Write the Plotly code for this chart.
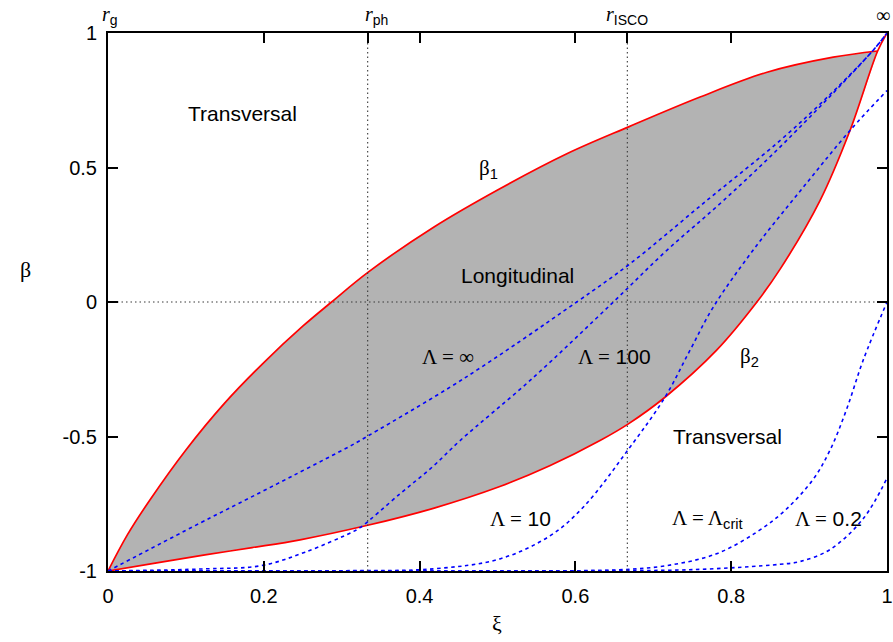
import plotly.graph_objects as go

# ---- boundary curves of the longitudinal region ----
b1_xi = [0.0, 0.025, 0.054, 0.10, 0.15, 0.20, 0.25, 0.287, 0.334,
         0.418, 0.503, 0.589, 0.669, 0.760, 0.846, 0.931, 0.988]
b1_beta = [-1.0, -0.865, -0.735, -0.55, -0.375, -0.225, -0.09, 0.0, 0.111,
           0.278, 0.421, 0.551, 0.652, 0.762, 0.854, 0.910, 0.933]

b2_xi = [0.0, 0.0625, 0.1245, 0.185, 0.2465, 0.332, 0.4176, 0.503, 0.567, 0.6316,
         0.668, 0.715, 0.781, 0.833, 0.863, 0.914, 0.9525, 0.988, 1.0]
b2_beta = [-1.0, -0.97, -0.94, -0.913, -0.884, -0.831, -0.767, -0.686, -0.609, -0.515,
           -0.453, -0.354, -0.180, 0.0, 0.123, 0.377, 0.6375, 0.933, 1.0]
b2_cross = 18  # beta_2 meets beta_1 at the 18th sample

# ---- trajectories for several values of Lambda ----
lam_inf_xi = [0.0, 0.118, 0.167, 0.238, 0.3125, 0.3235, 0.456, 0.6017, 0.670, 0.7685,
              0.8626, 0.93, 0.982, 1.0]
lam_inf_beta = [-1.0, -0.822, -0.75, -0.645, -0.533, -0.515, -0.286, 0.0, 0.142, 0.377,
                0.600, 0.78, 0.935, 1.0]

lam_100_xi = [0.0, 0.1245, 0.197, 0.253, 0.313, 0.3235, 0.3748, 0.4176, 0.452, 0.544,
              0.6487, 0.717, 0.790, 0.871, 0.982, 1.0]
lam_100_beta = [-1.0, -0.992, -0.98, -0.930, -0.856, -0.839, -0.713, -0.61, -0.515, -0.286,
                0.0, 0.191, 0.377, 0.600, 0.935, 1.0]

lam_10_xi = [0.0, 0.15, 0.30, 0.4176, 0.503, 0.567, 0.610, 0.670, 0.715, 0.747, 0.777,
             0.83, 0.8926, 0.9525, 1.0]
lam_10_beta = [-1.0, -1.0, -0.999, -0.992, -0.955, -0.87, -0.763, -0.540, -0.354, -0.180,
               -0.019, 0.20, 0.427, 0.6375, 0.786]

lam_crit_xi = [0.0, 0.30, 0.55, 0.653, 0.717, 0.781, 0.833, 0.869, 0.905, 0.927, 0.948,
               0.9696, 1.0]
lam_crit_beta = [-1.0, -1.0, -0.999, -0.996, -0.980, -0.936, -0.855, -0.775, -0.66, -0.55,
                 -0.40, -0.215, 0.0]

lam_02_xi = [0.0, 0.40, 0.60, 0.75, 0.8626, 0.888, 0.927, 0.9696, 1.0]
lam_02_beta = [-1.0, -1.0, -0.999, -0.995, -0.975, -0.965, -0.92, -0.805, -0.655]

# characteristic radii on the compactified coordinate xi
r_ph_xi = 1 / 3
r_isco_xi = 2 / 3

x_ticks = [0, 0.2, 0.4, 0.6, 0.8, 1]
x_tick_text = ["0", "0.2", "0.4", "0.6", "0.8", "1"]
y_ticks = [-1, -0.5, 0, 0.5, 1]
y_tick_text = ["-1", "-0.5", "0", "0.5", "1"]

SANS = "Liberation Sans, Arial, sans-serif"
SERIF = "Liberation Serif"


def greek(s):
    return f'<span style="font-family:{SERIF}">{s}</span>'


fig = go.Figure()

# grey longitudinal region between beta_2 (below) and beta_1 (above)
fig.add_trace(go.Scatter(x=b2_xi[:b2_cross], y=b2_beta[:b2_cross], mode="lines",
                         line=dict(width=0, shape="spline", color="rgba(0,0,0,0)"),
                         hoverinfo="skip", showlegend=False))
fig.add_trace(go.Scatter(x=b1_xi, y=b1_beta, mode="lines",
                         line=dict(width=0, shape="spline", color="rgba(0,0,0,0)"),
                         fill="tonexty", fillcolor="#b3b3b3",
                         hoverinfo="skip", showlegend=False))

# dotted reference lines
dot = dict(color="#3a3a3a", width=1.1, dash="1.5px,3px")
fig.add_trace(go.Scatter(x=[0, 1], y=[0, 0], mode="lines", line=dot,
                         hoverinfo="skip", showlegend=False))
for xv in (r_ph_xi, r_isco_xi):
    fig.add_trace(go.Scatter(x=[xv, xv], y=[-1, 1], mode="lines", line=dot,
                             xaxis="x2", hoverinfo="skip", showlegend=False))

# boundaries beta_1, beta_2
red = dict(color="#ff0000", width=1.7, shape="spline")
fig.add_trace(go.Scatter(x=b1_xi, y=b1_beta, mode="lines", line=red, showlegend=False))
fig.add_trace(go.Scatter(x=b2_xi, y=b2_beta, mode="lines", line=red, showlegend=False))

# Lambda curves
blue = dict(color="#0000ff", width=1.6, dash="3.5px,3.5px", shape="spline")
for xs, ys in [(lam_inf_xi, lam_inf_beta), (lam_100_xi, lam_100_beta),
               (lam_10_xi, lam_10_beta), (lam_crit_xi, lam_crit_beta),
               (lam_02_xi, lam_02_beta)]:
    fig.add_trace(go.Scatter(x=xs, y=ys, mode="lines", line=blue, showlegend=False))

axis_common = dict(showgrid=False, zeroline=False, showline=True, linecolor="black",
                   linewidth=2, ticks="inside", ticklen=10, tickwidth=1.5,
                   tickcolor="black", automargin=False,
                   tickfont=dict(family=SANS, size=20, color="black"))

fig.update_layout(
    width=893, height=642,
    margin=dict(l=108, r=6, t=33, b=71),
    paper_bgcolor="white", plot_bgcolor="white",
    font=dict(family=SANS, size=21, color="black"),
    xaxis=dict(range=[0, 1], tickvals=x_ticks, ticktext=x_tick_text, mirror="ticks",
               ticklabelstandoff=6, **axis_common),
    xaxis2=dict(range=[0, 1], overlaying="x", side="top", anchor="y",
                tickvals=[r_ph_xi, r_isco_xi], showticklabels=False, automargin=False,
                showgrid=False, zeroline=False, showline=False,
                ticks="inside", ticklen=10, tickwidth=1.5, tickcolor="black"),
    yaxis=dict(range=[-1, 1], tickvals=y_ticks, ticktext=y_tick_text, mirror="ticks",
               ticklabelstandoff=5, **axis_common),
)

annotations = []


def label(text, x, y, size=21, **kw):
    d = dict(text=text, x=x, y=y, xref="x", yref="y", showarrow=False,
             font=dict(family=SANS, size=size, color="black"),
             xanchor="center", yanchor="middle")
    d.update(kw)
    annotations.append(d)


label("Transversal", 0.173, 0.70)
label(greek("β") + "<sub>1</sub>", 0.488, 0.496)
label("Longitudinal", 0.526, 0.099)
label(greek("Λ = ∞"), 0.436, -0.203)
label(greek("Λ =") + " 100", 0.650, -0.203)
label(greek("β") + "<sub>2</sub>", 0.824, -0.206)
label("Transversal", 0.795, -0.50)
label(greek("Λ =") + " 10", 0.529, -0.805)
label(greek("Λ = Λ") + "<sub>crit</sub>", 0.770, -0.806)
label(greek("Λ =") + " 0.2", 0.9255, -0.805)

# radius labels above the frame
top_labels = [
    (0.0, greek("<i>r</i>") + "<sub>g</sub>", 2),
    (r_ph_xi, greek("<i>r</i>") + "<sub>ph</sub>", 9),
    (r_isco_xi, greek("<i>r</i>") + "<sub>ISCO</sub>", 0),
    (1.0, greek("∞"), -4),
]
for xv, txt, dx in top_labels:
    annotations.append(dict(text=txt, x=xv, y=1, xref="x", yref="paper",
                            yanchor="middle", xanchor="center", yshift=18, xshift=dx,
                            showarrow=False,
                            font=dict(family=SANS, size=20, color="black")))

# axis titles
annotations.append(dict(text=greek("β"), x=0, y=0.5595, xref="paper", yref="paper",
                        xshift=-90, showarrow=False, font=dict(size=22, color="black")))
annotations.append(dict(text=greek("ξ"), x=0.4994, y=-0.1004, xref="paper", yref="paper",
                        yshift=-13, showarrow=False, font=dict(size=22, color="black")))

fig.update_layout(annotations=annotations)

fig.write_html("out.html")
